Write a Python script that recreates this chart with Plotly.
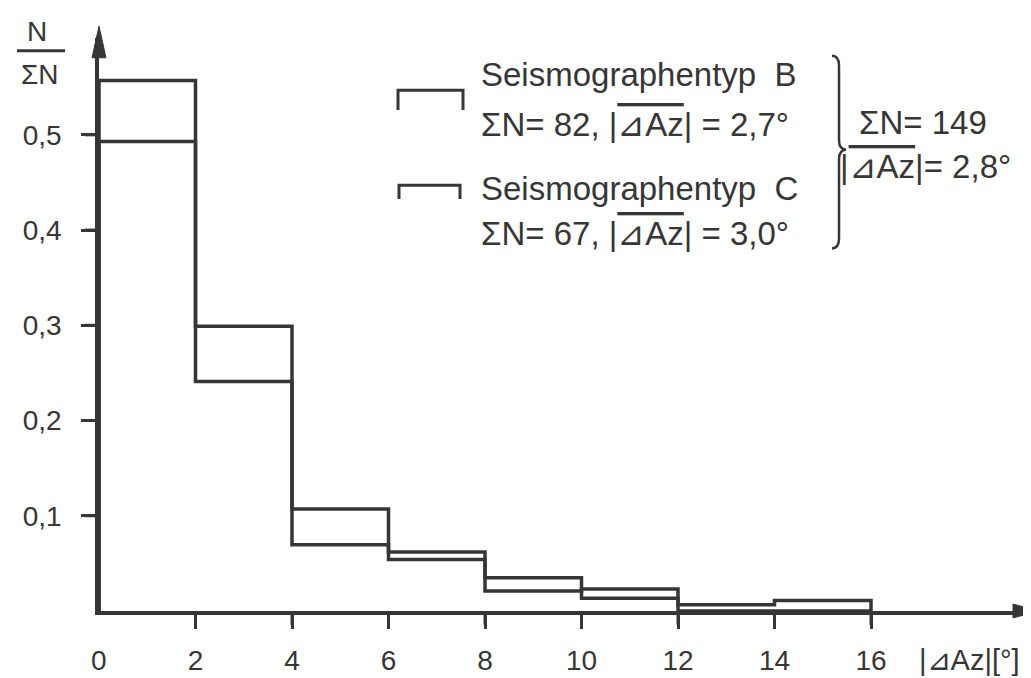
import plotly.graph_objects as go

# ---------------- data ----------------
bin_edges = [0, 2, 4, 6, 8, 10, 12, 14, 16]
freq_B = [0.557, 0.241, 0.0695, 0.054, 0.021, 0.023, 0.0065, 0.011]
freq_C = [0.493, 0.299, 0.107, 0.062, 0.035, 0.0135, 0.0, 0.0]
x_tick_vals = [2, 4, 6, 8, 10, 12, 14, 16]
x_tick_text = ["2", "4", "6", "8", "10", "12", "14", "16"]
y_tick_vals = [0.1, 0.2, 0.3, 0.4, 0.5]
y_tick_text = ["0,1", "0,2", "0,3", "0,4", "0,5"]

INK = "#363636"
FONT = "Liberation Sans"

W, H = 1031, 678
L, R, T, B = 91, 10, 30, 68
PW, PH = W - L - R, H - T - B
TICKLEN = 14


def px(x):
    return (x - L) / PW


def py(y):
    return (H - B - y) / PH


def step_xy(vals):
    xs = [bin_edges[0]] + bin_edges[:-1] + [bin_edges[-1]]
    ys = [0] + list(vals) + [0]
    return xs, ys


x_unit = 16 / (863 - 91)      # data units per pixel
y_unit = 0.5 / (610 - 128)
x_range = [0, PW * x_unit]
y_range = [0, PH * y_unit]

fig = go.Figure()
for name, vals in [("Seismographentyp B", freq_B), ("Seismographentyp C", freq_C)]:
    xs, ys = step_xy(vals)
    fig.add_trace(go.Scatter(x=xs, y=ys, mode="lines", line_shape="hv",
                             line=dict(color=INK, width=3.5), name=name,
                             showlegend=False, cliponaxis=False))

fig.update_layout(
    width=W, height=H,
    margin=dict(l=L, r=R, t=T, b=B),
    paper_bgcolor="white", plot_bgcolor="white",
    font=dict(family=FONT, color=INK, size=28),
    xaxis=dict(range=x_range, showgrid=False, zeroline=False,
               showline=True, linecolor=INK, linewidth=3.5,
               ticks="outside", ticklen=TICKLEN, tickwidth=3, tickcolor=INK,
               tickvals=x_tick_vals, ticktext=x_tick_text,
               tickfont=dict(size=28, family=FONT, color=INK),
               ticklabelstandoff=8),
    yaxis=dict(range=y_range, showgrid=False, zeroline=False,
               showline=True, linecolor=INK, linewidth=3.5,
               ticks="outside", ticklen=TICKLEN, tickwidth=3, tickcolor=INK,
               tickvals=y_tick_vals, ticktext=y_tick_text,
               tickfont=dict(size=28, family=FONT, color=INK),
               ticklabelstandoff=14),
)


def xfrac(v):
    return (v - x_range[0]) / (x_range[1] - x_range[0])


def yfrac(v):
    return (v - y_range[0]) / (y_range[1] - y_range[0])


shapes = []
# tick marks (outside the plot area) at the axis tick values
for v in x_tick_vals:
    shapes.append(dict(type="line", xref="paper", yref="paper",
                       x0=xfrac(v), x1=xfrac(v), y0=0, y1=-TICKLEN / PH,
                       line=dict(color=INK, width=3)))
for v in y_tick_vals:
    shapes.append(dict(type="line", xref="paper", yref="paper",
                       x0=-TICKLEN / PW, x1=0, y0=yfrac(v), y1=yfrac(v),
                       line=dict(color=INK, width=3)))
# arrowheads
shapes.append(dict(type="path", xref="paper", yref="paper",
                   path=f"M {px(1005)},{py(603)} L {px(1031)},{py(610)} L {px(1005)},{py(617)} Z",
                   fillcolor=INK, line=dict(color=INK, width=1)))
shapes.append(dict(type="path", xref="paper", yref="paper",
                   path=f"M {px(84)},{py(50)} L {px(91)},{py(18)} L {px(98)},{py(50)} Z",
                   fillcolor=INK, line=dict(color=INK, width=1)))
# fraction bar
shapes.append(dict(type="line", xref="paper", yref="paper",
                   x0=px(9), x1=px(57), y0=py(43), y1=py(43),
                   line=dict(color=INK, width=3)))
# legend symbols
shapes.append(dict(type="path", xref="paper", yref="paper",
                   path=f"M {px(390)},{py(103)} L {px(390)},{py(83)} L {px(455)},{py(83)} L {px(455)},{py(103)}",
                   line=dict(color=INK, width=3)))
shapes.append(dict(type="path", xref="paper", yref="paper",
                   path=f"M {px(391)},{py(193)} L {px(391)},{py(179)} L {px(452)},{py(179)} L {px(452)},{py(193)}",
                   line=dict(color=INK, width=3)))
# brace
bx, tx, cx = 824, 838, 831
top, mid, bot = 48, 143, 243
shapes.append(dict(type="path", xref="paper", yref="paper",
                   path=(f"M {px(bx)},{py(top)} Q {px(cx)},{py(top)} {px(cx)},{py(top+10)} "
                         f"L {px(cx)},{py(mid-10)} Q {px(cx)},{py(mid)} {px(tx)},{py(mid)} "
                         f"Q {px(cx)},{py(mid)} {px(cx)},{py(mid+10)} "
                         f"L {px(cx)},{py(bot-10)} Q {px(cx)},{py(bot)} {px(bx)},{py(bot)}"),
                   line=dict(color=INK, width=2.5)))
fig.update_layout(shapes=shapes)

ann = []


def text(t, x, y, size=33, xanchor="left"):
    ann.append(dict(text=t, x=px(x), y=py(y), xref="paper", yref="paper",
                    xanchor=xanchor, yanchor="middle", showarrow=False,
                    font=dict(size=size, family=FONT, color=INK)))


OVL = '<span style="text-decoration:overline">⊿Az</span>'
text("N", 29, 23, size=28, xanchor="center")
text("ΣN", 32, 67, size=28, xanchor="center")
text("|⊿Az|[°]", 961, 660, size=29, xanchor="center")
text("Seismographentyp  B", 471, 67)
text(f"ΣN= 82, |{OVL}| = 2,7°", 471, 118)
text("Seismographentyp  C", 471, 182)
text(f"ΣN= 67, |{OVL}| = 3,0°", 471, 228)
text("ΣN= 149", 915, 116, xanchor="center")
text(f"|{OVL}|= 2,8°", 917, 160, xanchor="center")
# "0" label of the x axis at the origin
ann.append(dict(text="0", x=0, xref="x", y=py(660), yref="paper",
                xanchor="center", yanchor="middle", showarrow=False,
                font=dict(size=28, family=FONT, color=INK)))
fig.update_layout(annotations=ann)

fig.write_html("out.html")
